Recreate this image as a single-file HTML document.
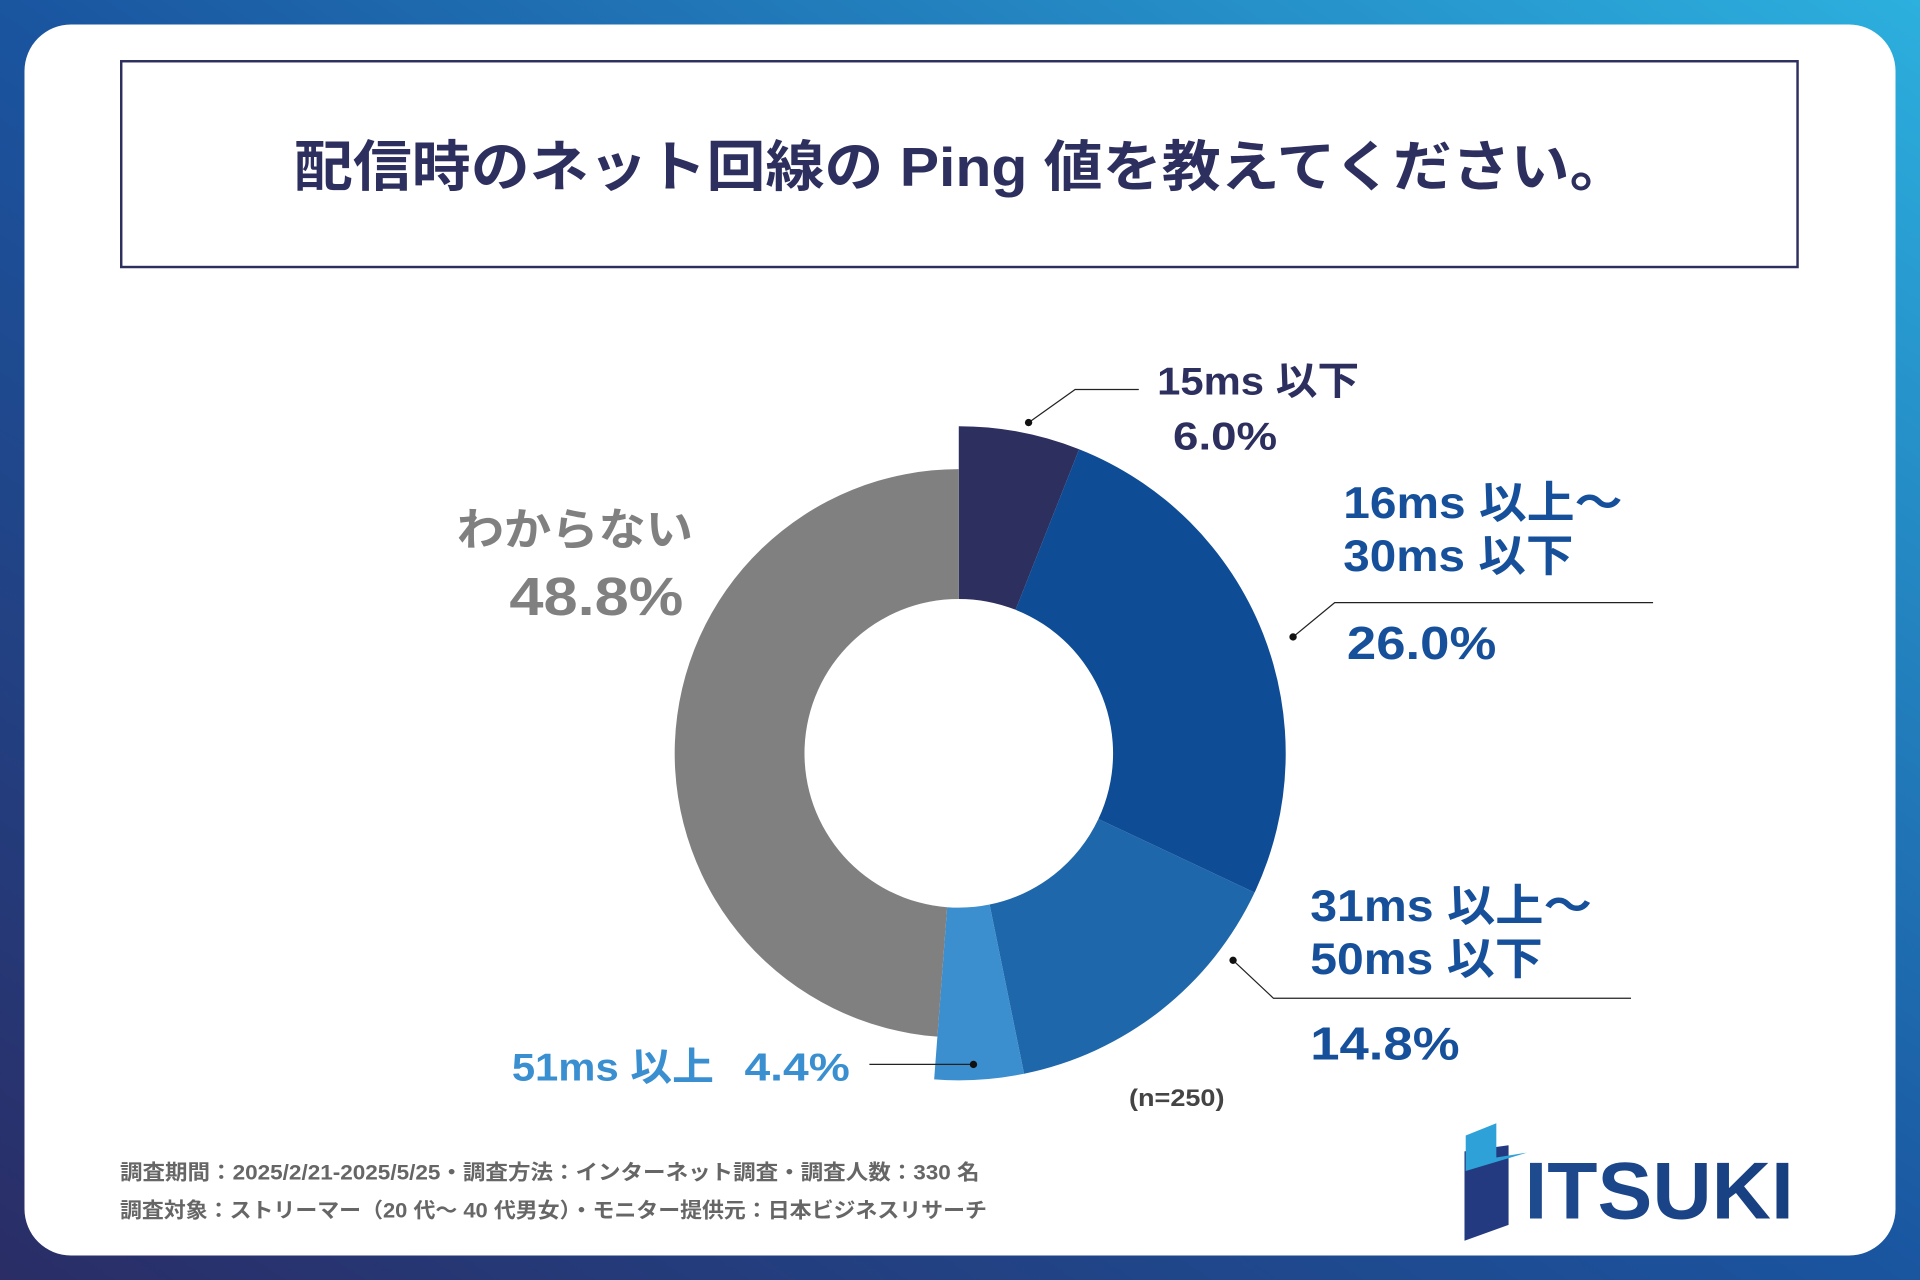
<!DOCTYPE html>
<html><head><meta charset="utf-8"><style>
html,body{margin:0;padding:0;width:1920px;height:1280px;overflow:hidden}
svg text{font-family:"Liberation Sans","Noto Sans CJK JP",sans-serif;font-weight:bold}
</style></head><body>
<svg width="1920" height="1280" viewBox="0 0 1568 1045" preserveAspectRatio="none" xmlns="http://www.w3.org/2000/svg">
<defs>
<linearGradient id="bg" x1="0" y1="1" x2="1" y2="0">
<stop offset="0" stop-color="#2a2d66"/><stop offset="0.5" stop-color="#1a55a0"/><stop offset="1" stop-color="#2cb0de"/>
</linearGradient>
<linearGradient id="lg" x1="0" y1="0" x2="1" y2="0"><stop offset="0" stop-color="#1e4a8f"/><stop offset="1" stop-color="#173f80"/></linearGradient>
</defs>
<rect x="0" y="0" width="1568" height="1045" fill="url(#bg)"/>
<rect x="20" y="20" width="1528" height="1005" rx="38" fill="#fff"/>
<rect x="99" y="50" width="1369" height="168" fill="none" stroke="#2d2f5e" stroke-width="2"/>
<text x="240" y="152" textLength="1090" lengthAdjust="spacingAndGlyphs" font-size="45" fill="#2d2f5e">配信時のネット回線の Ping 値を教えてください。</text>
<g id="donut"></g>
<g>
<text x="945" y="322" textLength="165" lengthAdjust="spacingAndGlyphs" font-size="32" fill="#2d2f5e">15ms 以下</text>
<text x="958" y="367" textLength="85" lengthAdjust="spacingAndGlyphs" font-size="32" fill="#2d2f5e">6.0%</text>
<polyline points="840,345 878,318 930,318" fill="none" stroke="#222" stroke-width="1"/><circle cx="840" cy="345" r="3" fill="#111"/>
<text x="1097" y="423" textLength="228" lengthAdjust="spacingAndGlyphs" font-size="36" fill="#17509a">16ms 以上～</text>
<text x="1097" y="466" textLength="188" lengthAdjust="spacingAndGlyphs" font-size="36" fill="#17509a">30ms 以下</text>
<text x="1100" y="538" textLength="122" lengthAdjust="spacingAndGlyphs" font-size="38" fill="#17509a">26.0%</text>
<polyline points="1056,520 1090,492 1350,492" fill="none" stroke="#222" stroke-width="1"/><circle cx="1056" cy="520" r="3" fill="#111"/>
<text x="1070" y="752" textLength="230" lengthAdjust="spacingAndGlyphs" font-size="36" fill="#17509a">31ms 以上～</text>
<text x="1070" y="795" textLength="190" lengthAdjust="spacingAndGlyphs" font-size="36" fill="#17509a">50ms 以下</text>
<text x="1070" y="865" textLength="122" lengthAdjust="spacingAndGlyphs" font-size="38" fill="#17509a">14.8%</text>
<polyline points="1007,784 1040,815 1332,815" fill="none" stroke="#222" stroke-width="1"/><circle cx="1007" cy="784" r="3" fill="#111"/>
<text x="418" y="882" textLength="165" lengthAdjust="spacingAndGlyphs" font-size="32" fill="#3a8fd0">51ms 以上</text>
<text x="608" y="882" textLength="86" lengthAdjust="spacingAndGlyphs" font-size="32" fill="#3a8fd0">4.4%</text>
<line x1="710" y1="869" x2="795" y2="869" stroke="#222" stroke-width="1"/><circle cx="795" cy="869" r="3" fill="#111"/>
<text x="373" y="445" textLength="193" lengthAdjust="spacingAndGlyphs" font-size="36" fill="#808080">わからない</text>
<text x="416" y="502" textLength="142" lengthAdjust="spacingAndGlyphs" font-size="44" fill="#808080">48.8%</text>
<text x="922" y="903" textLength="78" lengthAdjust="spacingAndGlyphs" font-size="20" fill="#444">(n=250)</text>
</g>
<text x="98" y="963" textLength="702" lengthAdjust="spacingAndGlyphs" font-size="17" fill="#666">調査期間：2025/2/21-2025/5/25・調査方法：インターネット調査・調査人数：330 名</text>
<text x="98" y="994" textLength="708" lengthAdjust="spacingAndGlyphs" font-size="17" fill="#666">調査対象：ストリーマー（20 代～ 40 代男女）・モニター提供元：日本ビジネスリサーチ</text>
<g>
<polygon points="1180,942 1196,940 1196,1013 1232,1000 1232,935 1196,940" fill="#243a80"/>
<polygon points="1197,927 1222,917 1222,945 1247,941 1197,956" fill="#2ea2d8"/>
<text x="1245" y="995" textLength="220" lengthAdjust="spacingAndGlyphs" font-size="66" fill="url(#lg)">ITSUKI</text>
</g>
</svg>
<script>
const categories=["15ms以下","16ms以上～30ms以下","31ms以上～50ms以下","51ms以上","わからない"];
const values=[6.0,26.0,14.8,4.4,48.8];
const colors=["#2d2f5e","#0f4c96","#1e67aa","#3b8fcf","#808080"];
const outerR=[267,267,267,267,232];
const cx=783,cy=615,inner=126;
const g=document.getElementById('donut');
const total=values.reduce((a,b)=>a+b,0);
let a0=0;
function pt(r,a){return [cx+r*Math.sin(a),cy-r*Math.cos(a)];}
values.forEach((v,i)=>{
  const a1=a0+v/total*2*Math.PI, R=outerR[i], lg=(a1-a0)>Math.PI?1:0;
  const p1=pt(R,a0),p2=pt(R,a1),p3=pt(inner,a1),p4=pt(inner,a0);
  const p=document.createElementNS('http://www.w3.org/2000/svg','path');
  p.setAttribute('d',`M${p1} A${R},${R} 0 ${lg} 1 ${p2} L${p3} A${inner},${inner} 0 ${lg} 0 ${p4} Z`);
  p.setAttribute('fill',colors[i]);
  
  
  g.appendChild(p);
  a0=a1;
});
</script>
</body></html>
